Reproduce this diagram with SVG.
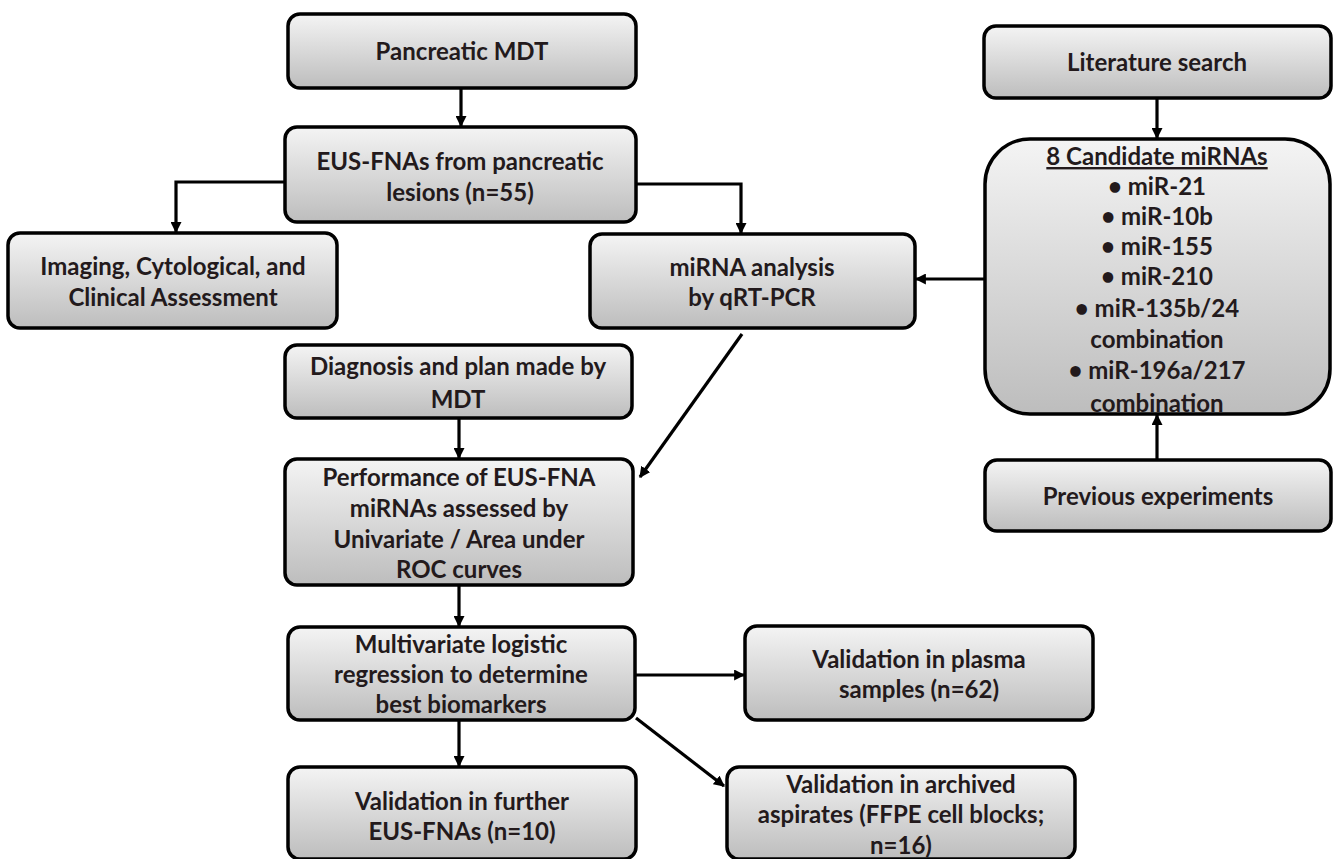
<svg xmlns="http://www.w3.org/2000/svg" width="1334" height="859" viewBox="0 0 1334 859">
<defs>
<linearGradient id="g" x1="0" y1="0" x2="0" y2="1">
<stop offset="0" stop-color="#f4f4f4"/>
<stop offset="1" stop-color="#bdbdbd"/>
</linearGradient>
<marker id="ah" viewBox="0 0 10 10" refX="9" refY="5" markerWidth="11" markerHeight="11" markerUnits="userSpaceOnUse" orient="auto">
<path d="M0,0 L10,5 L0,10 z" fill="#000"/>
</marker>
<style>
.box{fill:url(#g);stroke:#000;stroke-width:3.5}
.t{font-family:Lato,"Open Sans",sans-serif;font-weight:bold;font-size:24px;fill:#231a1c;text-anchor:middle}
.c{fill:none;stroke:#000;stroke-width:3.2}
</style>
</defs>
<rect width="1334" height="859" fill="#fff"/>
<g id="connectors">
<path class="c" d="M461,88 V126" marker-end="url(#ah)"/>
<path class="c" d="M285,182 H176 V232" marker-end="url(#ah)"/>
<path class="c" d="M636,184 H741 V233" marker-end="url(#ah)"/>
<path class="c" d="M1157,98 V138" marker-end="url(#ah)"/>
<path class="c" d="M985,279 H916" marker-end="url(#ah)"/>
<path class="c" d="M1157,460 V415" marker-end="url(#ah)"/>
<path class="c" d="M742,334 L640,477" marker-end="url(#ah)"/>
<path class="c" d="M459,418 V458" marker-end="url(#ah)"/>
<path class="c" d="M459,585 V626" marker-end="url(#ah)"/>
<path class="c" d="M636,675 H744" marker-end="url(#ah)"/>
<path class="c" d="M459,720 V766" marker-end="url(#ah)"/>
<path class="c" d="M636,718 L724,786" marker-end="url(#ah)"/>
</g>
<g id="pancreatic-mdt">
<rect class="box" x="288" y="14" width="348" height="74" rx="12"/>
<text class="t" x="462" y="60">Pancreatic MDT</text>
</g>
<g id="eus-fnas">
<rect class="box" x="285" y="127" width="351" height="95" rx="12"/>
<text class="t" x="460" y="170">EUS-FNAs from pancreatic</text>
<text class="t" x="460" y="201">lesions (n=55)</text>
</g>
<g id="imaging">
<rect class="box" x="8" y="233" width="329" height="95" rx="12"/>
<text class="t" x="173" y="275">Imaging, Cytological, and</text>
<text class="t" x="173" y="306">Clinical Assessment</text>
</g>
<g id="mirna-analysis">
<rect class="box" x="590" y="234" width="325" height="94" rx="12"/>
<text class="t" x="752" y="276">miRNA analysis</text>
<text class="t" x="752" y="306">by qRT-PCR</text>
</g>
<g id="diagnosis">
<rect class="box" x="285" y="345" width="347" height="73" rx="12"/>
<text class="t" x="458" y="375">Diagnosis and plan made by</text>
<text class="t" x="458" y="408">MDT</text>
</g>
<g id="performance">
<rect class="box" x="285" y="459" width="348" height="126" rx="12"/>
<text class="t" x="459" y="486">Performance of EUS-FNA</text>
<text class="t" x="459" y="517">miRNAs assessed by</text>
<text class="t" x="459" y="548">Univariate / Area under</text>
<text class="t" x="459" y="578">ROC curves</text>
</g>
<g id="multivariate">
<rect class="box" x="288" y="627" width="347" height="93" rx="12"/>
<text class="t" x="461" y="653">Multivariate logistic</text>
<text class="t" x="461" y="683">regression to determine</text>
<text class="t" x="461" y="713">best biomarkers</text>
</g>
<g id="validation-plasma">
<rect class="box" x="745" y="626" width="348" height="94" rx="12"/>
<text class="t" x="919" y="668">Validation in plasma</text>
<text class="t" x="919" y="698">samples (n=62)</text>
</g>
<g id="validation-further">
<rect class="box" x="288" y="767" width="348" height="92" rx="12"/>
<text class="t" x="462" y="810">Validation in further</text>
<text class="t" x="462" y="840">EUS-FNAs (n=10)</text>
</g>
<g id="validation-archived">
<rect class="box" x="727" y="767" width="348" height="92" rx="12"/>
<text class="t" x="901" y="793">Validation in archived</text>
<text class="t" x="901" y="823">aspirates (FFPE cell blocks;</text>
<text class="t" x="901" y="854">n=16)</text>
</g>
<g id="literature-search">
<rect class="box" x="984" y="26" width="347" height="72" rx="12"/>
<text class="t" x="1157" y="71">Literature search</text>
</g>
<g id="candidate-mirnas">
<rect class="box" x="985" y="139" width="345" height="275" rx="45"/>
<text class="t" x="1157" y="165" text-decoration="underline">8 Candidate miRNAs</text>
<text class="t" x="1157" y="195">• miR-21</text>
<text class="t" x="1157" y="225">• miR-10b</text>
<text class="t" x="1157" y="255">• miR-155</text>
<text class="t" x="1157" y="285">• miR-210</text>
<text class="t" x="1157" y="317">• miR-135b/24</text>
<text class="t" x="1157" y="348">combination</text>
<text class="t" x="1157" y="379">• miR-196a/217</text>
<text class="t" x="1157" y="412">combination</text>
</g>
<g id="previous-experiments">
<rect class="box" x="985" y="460" width="346" height="71" rx="12"/>
<text class="t" x="1158" y="505">Previous experiments</text>
</g>
</svg>
